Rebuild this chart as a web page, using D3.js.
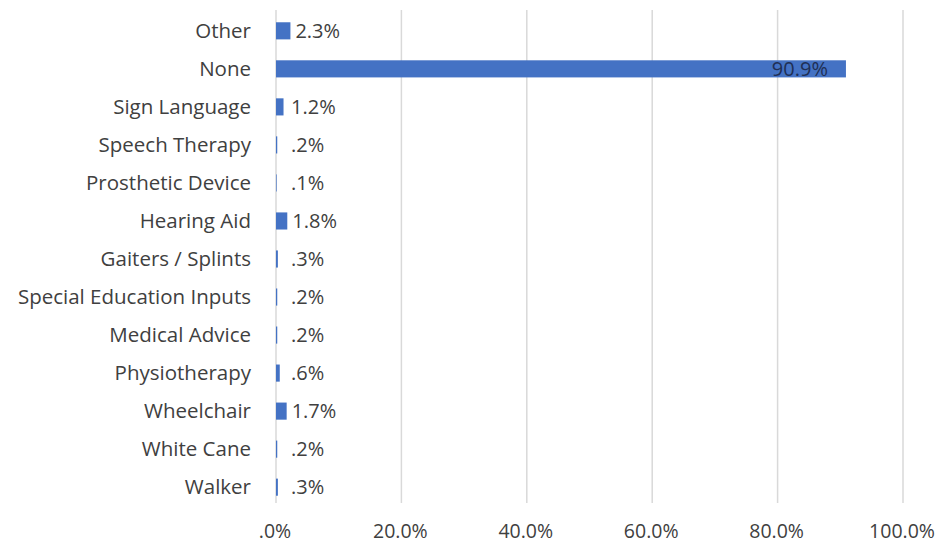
<!DOCTYPE html>
<html><head><meta charset="utf-8">
<script src="https://cdn.jsdelivr.net/npm/d3@7"></script>
<style>body{margin:0;background:#fff}svg{display:block}</style>
</head><body>
<svg id="c" width="945" height="545"></svg>
<script>
const categories = ["Other","None","Sign Language","Speech Therapy","Prosthetic Device","Hearing Aid","Gaiters / Splints","Special Education Inputs","Medical Advice","Physiotherapy","Wheelchair","White Cane","Walker"];
const values = [2.3,90.9,1.2,0.2,0.1,1.8,0.3,0.2,0.2,0.6,1.7,0.2,0.3];
const valueLabels = ["2.3%","90.9%","1.2%",".2%",".1%","1.8%",".3%",".2%",".2%",".6%","1.7%",".2%",".3%"];
const ticks = [0,20,40,60,80,100];
const tickLabels = [".0%","20.0%","40.0%","60.0%","80.0%","100.0%"];

const svg = d3.select("#c");
const font = "'Open Sans', sans-serif";
const fs = 20.5;
const x = d3.scaleLinear().domain([0,100]).range([276,903]);
const y = d3.scaleBand().domain(categories).range([12,506]).paddingInner(0.55).paddingOuter(0.27);

svg.append("g").selectAll("line").data(ticks).join("line")
  .attr("x1",d=>x(d)).attr("x2",d=>x(d)).attr("y1",10).attr("y2",503)
  .attr("stroke","#d9d9d9").attr("stroke-width",1.5);

svg.append("g").selectAll("rect").data(values).join("rect")
  .attr("x",x(0)).attr("y",(d,i)=>y(categories[i]))
  .attr("width",d=>x(d)-x(0)).attr("height",y.bandwidth())
  .attr("fill","#4472c4");

svg.append("g").selectAll("text").data(categories).join("text")
  .attr("x",251).attr("y",d=>y(d)+y.bandwidth()/2).attr("dy","0.35em")
  .attr("text-anchor","end").attr("font-family",font).attr("font-size",fs)
  .attr("fill","#404040").text(d=>d);

svg.append("g").selectAll("text").data(values).join("text")
  .attr("x",d=> d>50 ? x(d)-18 : Math.max(x(d), x(0)+10)+5)
  .attr("y",(d,i)=>y(categories[i])+y.bandwidth()/2).attr("dy","0.35em")
  .attr("text-anchor",d=>d>50?"end":"start")
  .attr("font-family",font).attr("font-size",fs-0.5)
  .attr("fill",d=>d>50?"#1f2f55":"#404040").text((d,i)=>valueLabels[i]);

svg.append("g").selectAll("text").data(ticks).join("text")
  .attr("x",d=>x(d)-1).attr("y",531).attr("dy","0.35em")
  .attr("text-anchor","middle").attr("font-family",font).attr("font-size",19.5)
  .attr("fill","#404040").text((d,i)=>tickLabels[i]);
</script>
</body></html>
